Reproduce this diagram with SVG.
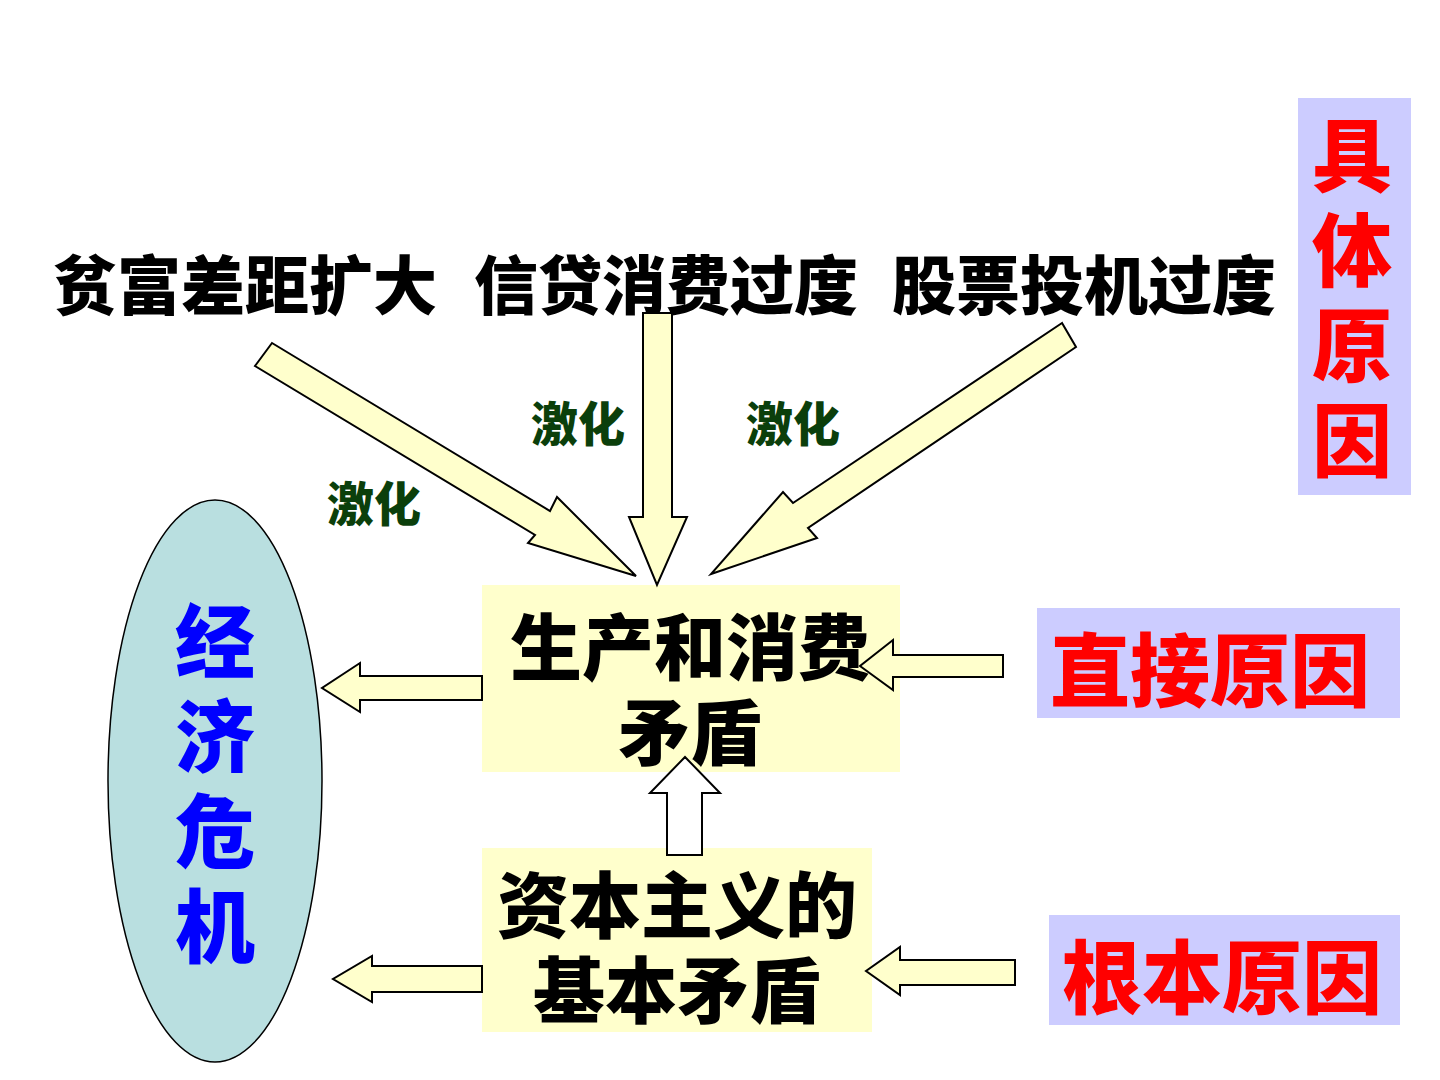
<svg xmlns="http://www.w3.org/2000/svg" width="1440" height="1080" viewBox="0 0 1440 1080">
<style>
.t{font-family:"Noto Sans CJK SC","Noto Sans",sans-serif;font-weight:900;text-anchor:middle;dominant-baseline:central}
.v{font-family:"Noto Sans CJK SC","Noto Sans",sans-serif;font-weight:900;writing-mode:vertical-rl;text-anchor:middle;letter-spacing:15px;font-size:80px}
.blk{fill:#000}
.red{fill:#ff0000}
.blu{fill:#0000ff}
.grn{fill:#0b3f0b;font-size:47px}
.arr{fill:#ffffcc;stroke:#000;stroke-width:2;stroke-linejoin:miter}
.arw{fill:#ffffff;stroke:#000;stroke-width:2}
.box{fill:#ffffcc}
.lab{fill:#ccccff}
</style>
<rect width="1440" height="1080" fill="#fff"/>
<g id="top-causes">
<text class="t blk" x="245" y="281" font-size="64">贫富差距扩大</text>
<text class="t blk" x="666" y="281" font-size="64">信贷消费过度</text>
<text class="t blk" x="1084" y="281" font-size="64">股票投机过度</text>
</g>
<g id="crisis">
<ellipse cx="215" cy="781" rx="107" ry="281" fill="#b9dfe0" stroke="#000" stroke-width="1.5"/>
<text class="v blu" x="215" y="791">经济危机</text>
</g>
<g id="label-specific">
<rect class="lab" x="1298" y="98" width="113" height="397"/>
<text class="v red" x="1352" y="305">具体原因</text>
</g>
<g id="label-direct">
<rect class="lab" x="1037" y="608" width="363" height="110"/>
<text class="t red" x="1210" y="665" font-size="80">直接原因</text>
</g>
<g id="label-root">
<rect class="lab" x="1049" y="915" width="351" height="110"/>
<text class="t red" x="1222" y="972" font-size="80">根本原因</text>
</g>
<g id="contradiction">
<rect class="box" x="482" y="585" width="418" height="187"/>
<text class="t blk" font-size="72"><tspan x="690" y="642">生产和消费</tspan><tspan x="690" y="727">矛盾</tspan></text>
</g>
<g id="basic-contradiction">
<rect class="box" x="482" y="848" width="390" height="184"/>
<text class="t blk" font-size="72"><tspan x="677" y="900">资本主义的</tspan><tspan x="677" y="985">基本矛盾</tspan></text>
</g>
<g id="labels">
<text class="t grn" x="578" y="420">激化</text>
<text class="t grn" x="793" y="420">激化</text>
<text class="t grn" x="374" y="500">激化</text>
</g>
<g id="connectors">
<polygon class="arr" points="272,343 550,511 557,497 636,576 528,543 535,535 255,366"/>
<polygon class="arr" points="643,313 672,313 672,517 687,517 657,585 629,517 643,517"/>
<polygon class="arr" points="1062,323 793,503 783,492 711,574 817,538 808,528 1076,347"/>
<polygon class="arr" points="482,676 360,676 360,663 322,688 360,712 360,700 482,700"/>
<polygon class="arr" points="1003,655 893,655 893,640 860,666 893,690 893,677 1003,677"/>
<polygon class="arw" points="667,855 667,793 650,793 685,757 720,793 702,793 702,855"/>
<polygon class="arr" points="482,966 372,966 372,956 333,979 372,1002 372,992 482,992"/>
<polygon class="arr" points="1015,960 900,960 900,947 866,971 900,995 900,985 1015,985"/>
</g>
</svg>
